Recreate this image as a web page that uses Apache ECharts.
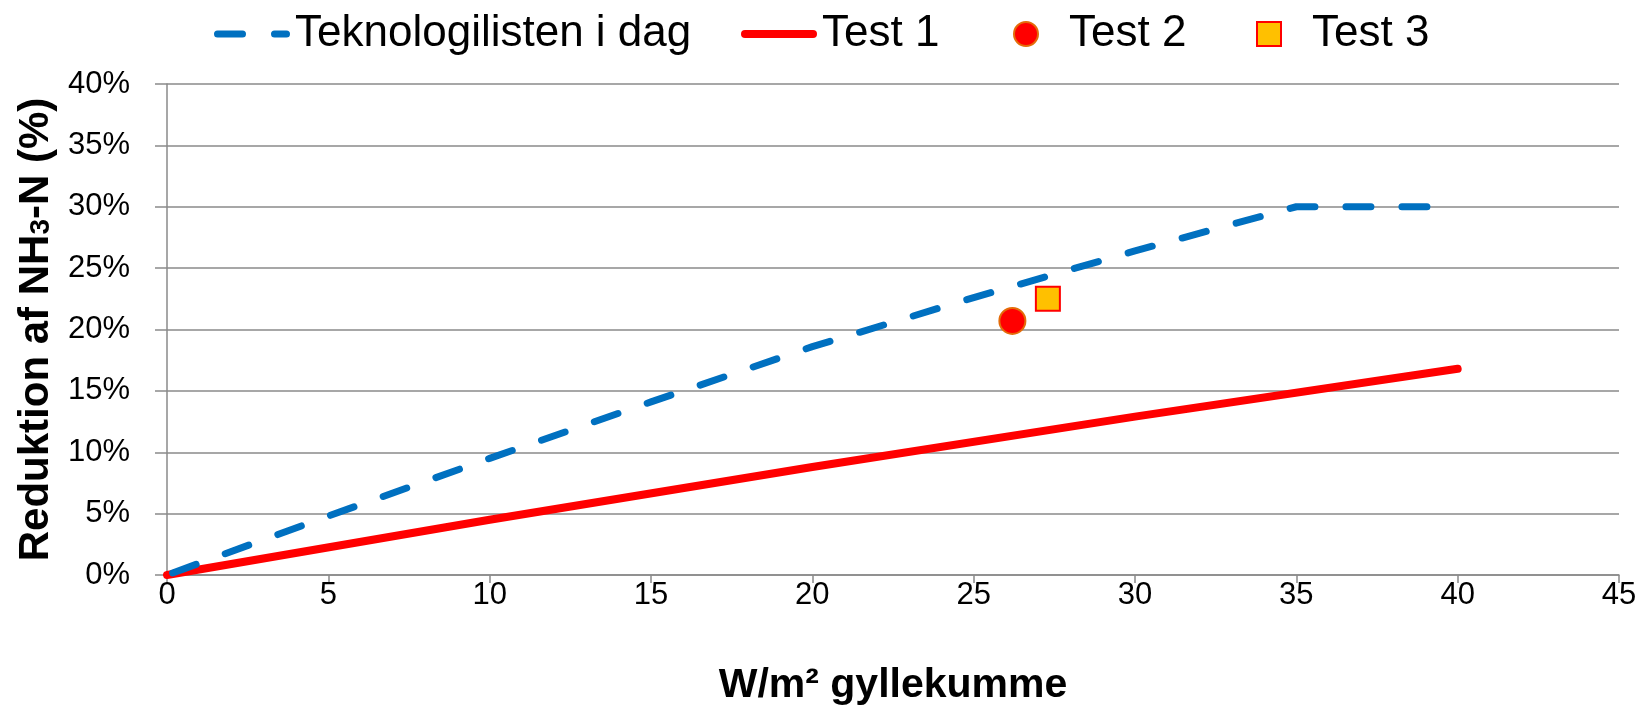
<!DOCTYPE html>
<html>
<head>
<meta charset="utf-8">
<script src="https://cdn.jsdelivr.net/npm/echarts@6/dist/echarts.min.js"></script>
<style>
html,body{margin:0;padding:0;background:#fff;}
#c{width:1640px;height:707px;}
</style>
</head>
<body>
<div id="c"></div>
<script>
// Data
var seriesNames = ['Teknologilisten i dag', 'Test 1', 'Test 2', 'Test 3'];
var tekX = [0, 5, 10, 15, 20, 25, 30, 35, 40];
var tekY = [0, 4.8, 9.5, 14.1, 18.6, 22.6, 26.4, 30, 30];
var test1X = [0, 10, 20, 30, 40];
var test1Y = [0, 4.5, 8.8, 12.9, 16.8];
var test2X = [26.2];
var test2Y = [20.7];
var test3X = [27.3];
var test3Y = [22.5];
var xTicks = [0, 5, 10, 15, 20, 25, 30, 35, 40, 45];
var yTicks = [0, 5, 10, 15, 20, 25, 30, 35, 40];

function pairs(xs, ys) { return xs.map(function (x, i) { return [x, ys[i]]; }); }

var FONT = '"Liberation Sans", Arial, sans-serif';
var grey = '#8a8a8a';

// legend icon shapes (drawn inside the legend item box)
var dashIcon = 'path://M3.5,0H28.5A3.5,3.5 0 0 1 28.5,7H3.5A3.5,3.5 0 0 1 3.5,0Z M60.5,0H72.5A3.5,3.5 0 0 1 72.5,7H60.5A3.5,3.5 0 0 1 60.5,0Z';
var lineIcon = 'path://M4,0H72A4,4 0 0 1 72,8H4A4,4 0 0 1 4,0Z';
var squareIcon = 'path://M0,0H20V20H0Z';
var legendIcons = [dashIcon, lineIcon, 'circle', squareIcon];
var legendLeft = [214, 741, 1013, 1256];

var legends = seriesNames.map(function (n, i) {
  return {
    top: 12,
    left: legendLeft[i],
    padding: 0,
    itemWidth: 76,
    itemHeight: 24,
    textStyle: { fontFamily: FONT, fontSize: 44, color: '#000' },
    data: [{ name: n, icon: legendIcons[i] }]
  };
});

var chart = echarts.init(document.getElementById('c'));
chart.setOption({
  animation: false,
  backgroundColor: '#fff',
  grid: { left: 167, right: 21, top: 84, bottom: 132, containLabel: false, outerBoundsMode: 'none' },
  legend: legends,
  xAxis: {
    type: 'value',
    min: xTicks[0],
    max: xTicks[xTicks.length - 1],
    interval: 5,
    name: 'W/m² gyllekumme',
    nameLocation: 'middle',
    nameGap: 90,
    nameTextStyle: { fontFamily: FONT, fontSize: 41, fontWeight: 'bold', color: '#000' },
    axisLine: { lineStyle: { color: grey, width: 1.5 } },
    axisTick: { show: true, length: 8, lineStyle: { color: grey, width: 1.5 } },
    axisLabel: { fontFamily: FONT, fontSize: 31, color: '#000', margin: 5 },
    splitLine: { show: false }
  },
  yAxis: {
    type: 'value',
    min: yTicks[0],
    max: yTicks[yTicks.length - 1],
    interval: 5,
    name: '{a|Reduktion af NH}{s|3}{a|-N (%)}',
    nameLocation: 'middle',
    nameRotate: 90,
    nameGap: 96,
    nameTextStyle: {
      rich: {
        a: { fontFamily: FONT, fontSize: 42, fontWeight: 'bold', color: '#000', padding: [0, 0, 10, 0] },
        s: { fontFamily: FONT, fontSize: 28, fontWeight: 'bold', color: '#000' }
      }
    },
    axisLine: { show: true, lineStyle: { color: grey, width: 1.5 } },
    axisTick: { show: true, length: 12, lineStyle: { color: grey, width: 1.5 } },
    axisLabel: { fontFamily: FONT, fontSize: 31, color: '#000', margin: 37, formatter: '{value}%' },
    splitLine: { show: true, lineStyle: { color: grey, width: 1.5 } }
  },
  series: [
    {
      name: seriesNames[0],
      type: 'line',
      data: pairs(tekX, tekY),
      symbol: 'none',
      lineStyle: { color: '#0070C0', width: 7, type: [25, 31], dashOffset: 50, cap: 'round', join: 'round' },
      itemStyle: { color: '#0070C0' },
      z: 3
    },
    {
      name: seriesNames[1],
      type: 'line',
      data: pairs(test1X, test1Y),
      symbol: 'none',
      lineStyle: { color: '#FF0000', width: 8, cap: 'round', join: 'round' },
      itemStyle: { color: '#FF0000' },
      z: 2
    },
    {
      name: seriesNames[2],
      type: 'scatter',
      data: pairs(test2X, test2Y),
      symbol: 'circle',
      symbolSize: 26,
      itemStyle: { color: '#FF0000', borderColor: '#E46C0A', borderWidth: 2, opacity: 1 },
      z: 4
    },
    {
      name: seriesNames[3],
      type: 'scatter',
      data: pairs(test3X, test3Y),
      symbol: 'rect',
      symbolSize: 24,
      itemStyle: { color: '#FFC000', borderColor: '#FF0000', borderWidth: 2, opacity: 1 },
      z: 4
    }
  ]
});
</script>
</body>
</html>
